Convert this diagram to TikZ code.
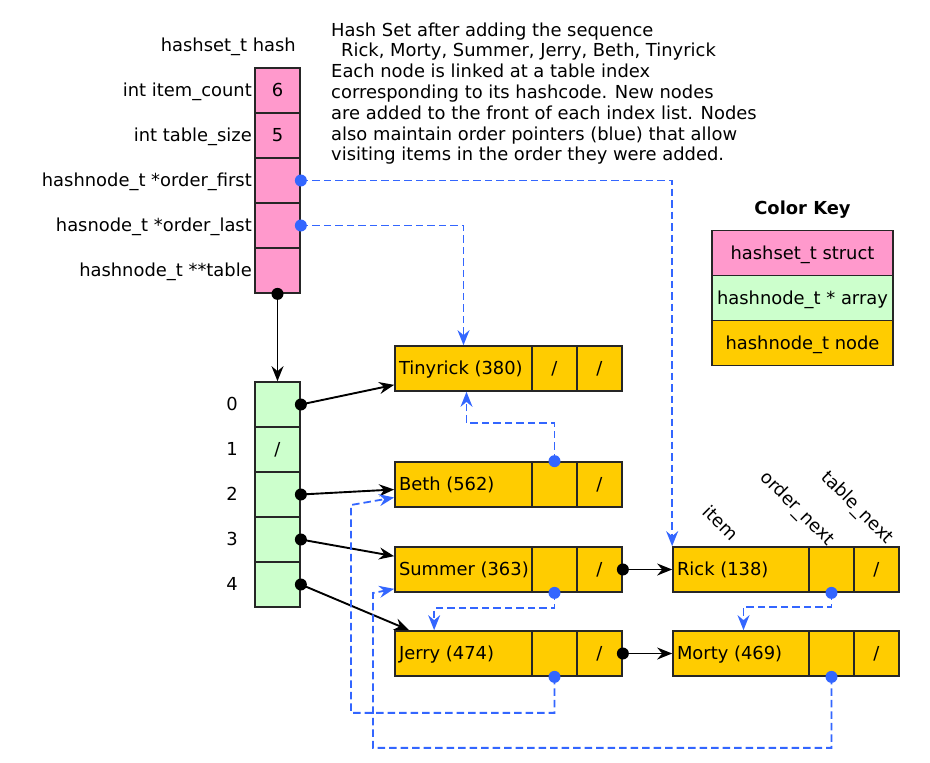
\documentclass[tikz,border=0pt]{standalone}
\usepackage{fontspec}
\setmainfont{DejaVu Sans}
\usetikzlibrary{arrows.meta,calc}
\definecolor{pinkc}{HTML}{FF99CC}
\definecolor{greenc}{HTML}{CCFFCC}
\definecolor{yellowc}{HTML}{FFCC00}
\definecolor{bluec}{HTML}{3366FF}
\begin{document}
\begin{tikzpicture}[x=1pt,y=-1pt,
  font=\fontsize{17.9}{20.8}\selectfont,
  cell/.style={draw=black!85, line width=1.7pt, minimum width=45pt, minimum height=45pt, inner sep=0pt, text height=14pt, text depth=2pt},
  pcell/.style={cell, fill=pinkc},
  gcell/.style={cell, fill=greenc},
  ycell/.style={cell, fill=yellowc},
  wide/.style={ycell, minimum width=137pt},
  keycell/.style={cell, minimum width=181pt},
  lbl/.style={inner sep=0pt, anchor=base east},
  dline/.style={inner sep=0pt, anchor=base west},
  blk/.style={draw=black, line width=1.9pt, -{Stealth[length=15pt, width=12pt, inset=5pt]}},
  blu/.style={draw=bluec, line width=1.8pt, dash pattern=on 7.5pt off 4pt, -{Stealth[length=15pt, width=12pt, inset=5pt]}},
  bdot/.style={fill=black},
  udot/.style={fill=bluec},
  rot/.style={inner sep=0pt, rotate=-45}
]
\useasboundingbox (0,0) rectangle (930,763);

% description
\node[dline] (d1) at (331,36) {Hash Set after adding the sequence};
\node[dline] (d2) at (341,56.8) {Rick, Morty, Summer, Jerry, Beth, Tinyrick};
\node[dline] (d3) at (331,77.6) {Each node is linked at a table index};
\node[dline] (d4) at (331,98.4) {corresponding to its hashcode. New nodes};
\node[dline] (d5) at (331,119.2) {are added to the front of each index list. Nodes};
\node[dline] (d6) at (331,140) {also maintain order pointers (blue) that allow};
\node[dline] (d7) at (331,160.8) {visiting items in the order they were added.};

% hashset struct
\node[lbl] (hs) at (296,51.5) {hashset\_t hash};
\node[pcell] (s1) at (277.5,90.5) {6};
\node[pcell] (s2) at (277.5,135.5) {5};
\node[pcell] (s3) at (277.5,180.5) {};
\node[pcell] (s4) at (277.5,225.5) {};
\node[pcell] (s5) at (277.5,270.5) {};
\node[lbl] (l1) at (252,96.5) {int item\_count};
\node[lbl] (l2) at (252,141.5) {int table\_size};
\node[lbl] (l3) at (252,186.5) {hashnode\_t *order\_first};
\node[lbl] (l4) at (252,231.5) {hasnode\_t *order\_last};
\node[lbl] (l5) at (252,276.5) {hashnode\_t **table};

% table array
\foreach \i/\t in {0/,1/{/},2/,3/,4/}{
  \node[gcell] (a\i) at (277.5,404.5+45*\i) {\t};
  \node[inner sep=0pt, anchor=base] (n\i) at (232,410.5+45*\i) {\i};
}

% nodes
\node[wide] (tinyI) at (463.5,368.5) {\makebox[129pt][l]{Tinyrick (380)}};
\node[ycell] (tinyO) at (554.5,368.5) {/};
\node[ycell] (tinyT) at (599.5,368.5) {/};
\node[wide] (bethI) at (463.5,484.5) {\makebox[129pt][l]{Beth (562)}};
\node[ycell] (bethO) at (554.5,484.5) {};
\node[ycell] (bethT) at (599.5,484.5) {/};
\node[wide] (sumI) at (463.5,569.5) {\makebox[129pt][l]{Summer (363)}};
\node[ycell] (sumO) at (554.5,569.5) {};
\node[ycell] (sumT) at (599.5,569.5) {/};
\node[wide] (jerI) at (463.5,653.5) {\makebox[129pt][l]{Jerry (474)}};
\node[ycell] (jerO) at (554.5,653.5) {};
\node[ycell] (jerT) at (599.5,653.5) {/};
\node[wide] (rickI) at (741.5,569.5) {\makebox[129pt][l]{Rick (138)}};
\node[ycell] (rickO) at (831.5,569.5) {};
\node[ycell] (rickT) at (876.5,569.5) {/};
\node[wide] (mortI) at (741.5,653.5) {\makebox[129pt][l]{Morty (469)}};
\node[ycell] (mortO) at (831.5,653.5) {};
\node[ycell] (mortT) at (876.5,653.5) {/};

% rotated field labels
\node[rot] (fi) at (721,523) {item};
\node[rot] (fo) at (797,509) {order\_next};
\node[rot] (ft) at (857,508) {table\_next};

% color key
\node[inner sep=0pt, anchor=base, font=\fontsize{17.9}{20.8}\selectfont\bfseries] (ck) at (802.5,214) {Color Key};
\node[keycell, fill=pinkc] (k1) at (802.5,253) {hashset\_t struct};
\node[keycell, fill=greenc] (k2) at (802.5,298) {hashnode\_t * array};
\node[keycell, fill=yellowc] (k3) at (802.5,343) {hashnode\_t node};

% coordinates for free ends
\coordinate (jb) at (351,505);
\coordinate (mb) at (373,593);

% black connectors
\draw[blk] (s5.south) -- (a0.north);
\draw[blk] (a0.east) -- ($(tinyI.south west)+(0,-7)$);
\draw[blk] (a2.east) -- ($(bethI.west)+(0,5)$);
\draw[blk] (a3.east) -- ($(sumI.north west)+(0,10)$);
\draw[blk] (a4.east) -- ($(jerI.north west)+(15,0)$);
\draw[blk] (sumT.east) -- (rickI.west);
\draw[blk] (jerT.east) -- (mortI.west);

% blue order connectors
\draw[blu] (s3.east) -| (rickI.north west);
\draw[blu] (s4.east) -| (tinyI.north);
\draw[blu] (bethO.north) -- ++(0,-38) -| ($(tinyI.south)+(3,0)$);
\draw[blu] (sumO.south) -- ++(0,15) -| ($(jerI.north west)+(40,0)$);
\draw[blu] (rickO.south) -- ++(0,14) -| ($(mortI.north)+(2,0)$);
\draw[blu] (jerO.south) -- ++(0,36) -| (jb) -- ($(bethI.west)+(0,13)$);
\draw[blu] (mortO.south) -- ++(0,71) -| (mb) -- ($(sumI.south west)+(0,-4)$);

% dots
\fill[bdot] (s5.south) circle (6);
\foreach \i in {0,2,3,4}{\fill[bdot] (a\i.east) circle (6);}
\fill[bdot] (sumT.east) circle (6);
\fill[bdot] (jerT.east) circle (6);
\fill[udot] (s3.east) circle (6);
\fill[udot] (s4.east) circle (6);
\fill[udot] (bethO.north) circle (6);
\fill[udot] (sumO.south) circle (6);
\fill[udot] (jerO.south) circle (6);
\fill[udot] (rickO.south) circle (6);
\fill[udot] (mortO.south) circle (6);
\end{tikzpicture}
\end{document}
